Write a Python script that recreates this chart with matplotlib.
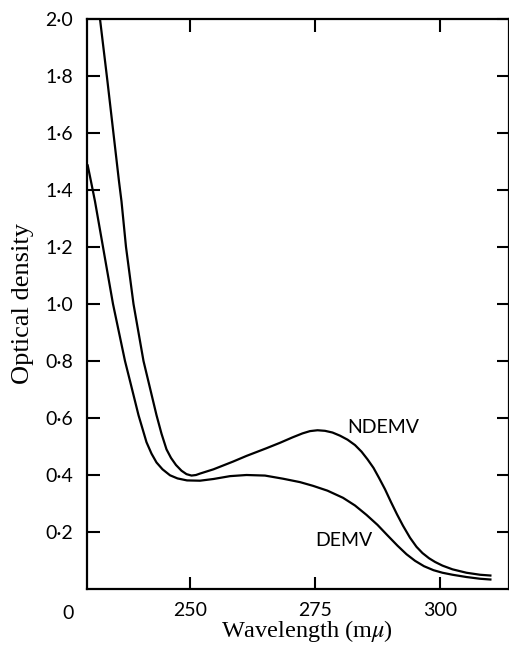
import matplotlib
matplotlib.use("Agg")
import matplotlib.pyplot as plt

# wavelength (m mu) and optical density
ndemv_wl = [232.0, 233.5, 235.8, 236.3, 237.2, 238.7, 240.7, 241.7, 243.3, 244.3,
            245.3, 246.2, 247.2, 248.3, 249.3, 250.3, 251.2, 252.0, 254.7, 258.6,
            261.3, 265.3, 268.0, 270.5, 272.5, 274.0, 275.5, 277.0, 278.5, 280.0,
            281.5, 283.0, 284.3, 285.5, 286.7, 287.8, 289.0, 290.2, 291.4, 292.6,
            294.0, 295.3, 296.5, 297.8, 299.0, 300.5, 302.5, 305.3, 308.0, 310.3]
ndemv_od = [2.00, 1.78, 1.43, 1.36, 1.20, 1.00, 0.80, 0.727, 0.61, 0.545,
            0.49, 0.46, 0.435, 0.415, 0.403, 0.398, 0.400, 0.405, 0.42, 0.447,
            0.467, 0.494, 0.513, 0.532, 0.546, 0.554, 0.557, 0.555, 0.549, 0.538,
            0.524, 0.505, 0.482, 0.455, 0.425, 0.39, 0.35, 0.305, 0.262, 0.222,
            0.18, 0.148, 0.126, 0.108, 0.095, 0.082, 0.069, 0.057, 0.05, 0.047]

demv_wl = [229.5, 230.2, 231.0, 232.6, 234.6, 237.0, 238.0, 239.7, 241.3, 242.3,
           243.3, 244.5, 246.0, 247.5, 249.4, 252.0, 254.7, 258.0, 261.3, 265.0,
           268.6, 272.0, 274.6, 277.5, 280.6, 283.0, 285.3, 287.5, 289.4, 291.5,
           293.3, 295.0, 296.8, 298.7, 300.5, 302.5, 305.3, 308.0, 310.3]
demv_od = [1.49, 1.43, 1.36, 1.20, 1.00, 0.80, 0.73, 0.61, 0.515, 0.475,
           0.444, 0.42, 0.399, 0.388, 0.381, 0.380, 0.386, 0.396, 0.400, 0.398,
           0.387, 0.375, 0.362, 0.345, 0.32, 0.293, 0.26, 0.225, 0.19, 0.152,
           0.122, 0.099, 0.08, 0.066, 0.057, 0.05, 0.042, 0.036, 0.033]

xticks = [250, 275, 300]
yticks = [0.2, 0.4, 0.6, 0.8, 1.0, 1.2, 1.4, 1.6, 1.8, 2.0]
ytick_labels = ['0·2', '0·4', '0·6', '0·8', '1·0', '1·2', '1·4', '1·6', '1·8', '2·0']

plt.rcParams['mathtext.fontset'] = 'stix'
sans = 'Lato'
serif = 'Liberation Serif'

fig = plt.figure(figsize=(5.09, 6.52), dpi=100)
ax = fig.add_axes([87 / 509, 63 / 652, 422 / 509, 570 / 652])

ax.plot(ndemv_wl, ndemv_od, color='black', lw=1.6, solid_capstyle='butt')
ax.plot(demv_wl, demv_od, color='black', lw=1.6, solid_capstyle='butt')

ax.set_xlim(229.4, 313.8)
ax.set_ylim(0, 2.0)

ax.set_xticks(xticks)
ax.set_xticklabels([str(t) for t in xticks], family=sans, fontsize=14)
ax.set_yticks(yticks)
ax.set_yticklabels(ytick_labels, family=sans, fontsize=14)
ax.tick_params(direction='in', length=9, width=1.5, top=True, right=True, pad=10)
ax.tick_params(axis='x', pad=9)

for s in ax.spines.values():
    s.set_linewidth(1.6)

ax.text(-0.045, -0.028, '0', transform=ax.transAxes, ha='center', va='top',
        family=sans, fontsize=14)

ax.text(281.4, 0.565, 'NDEMV', family=sans, fontsize=14, va='center', ha='left')
ax.text(275.0, 0.17, 'DEMV', family=sans, fontsize=14, va='center', ha='left')

ax.set_xlabel('Wavelength (m$\\mu$)', family=serif, fontsize=17.5)
ax.xaxis.set_label_coords(0.521, -0.05)
ax.set_ylabel('Optical density', family=serif, fontsize=19, labelpad=8)

fig.savefig('out.png', dpi=100)
